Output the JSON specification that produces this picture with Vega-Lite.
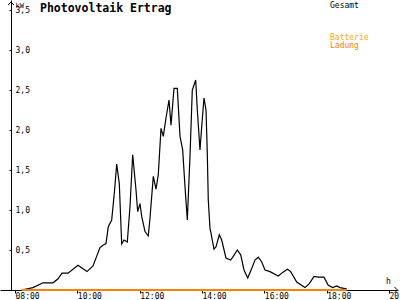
{
  "$schema": "https://vega.github.io/schema/vega-lite/v6.json",
  "width": 398,
  "height": 290,
  "autosize": {"type": "none"},
  "padding": {"left": 0, "top": 0, "right": 2, "bottom": 10},
  "background": "white",
  "title": {"text": "Photovoltaik Ertrag", "anchor": "start", "frame": "group", "dx": 40, "offset": -14, "font": "DejaVu Sans Mono", "fontSize": 11.5, "fontWeight": "bold", "color": "black", "baseline": "top"},
  "config": {"view": {"stroke": null}, "font": "DejaVu Sans Mono"},
  "data": {"values": [
    {"t": 8.215, "kw": 0, "series": "Gesamt"},
    {"t": 8.577, "kw": 0.03, "series": "Gesamt"},
    {"t": 8.898, "kw": 0.09, "series": "Gesamt"},
    {"t": 9.219, "kw": 0.09, "series": "Gesamt"},
    {"t": 9.380, "kw": 0.14, "series": "Gesamt"},
    {"t": 9.508, "kw": 0.21, "series": "Gesamt"},
    {"t": 9.700, "kw": 0.21, "series": "Gesamt"},
    {"t": 10.021, "kw": 0.31, "series": "Gesamt"},
    {"t": 10.310, "kw": 0.23, "series": "Gesamt"},
    {"t": 10.502, "kw": 0.30, "series": "Gesamt"},
    {"t": 10.727, "kw": 0.53, "series": "Gesamt"},
    {"t": 10.823, "kw": 0.56, "series": "Gesamt"},
    {"t": 10.919, "kw": 0.58, "series": "Gesamt"},
    {"t": 10.993, "kw": 0.79, "series": "Gesamt"},
    {"t": 11.102, "kw": 0.875, "series": "Gesamt"},
    {"t": 11.186, "kw": 1.21, "series": "Gesamt"},
    {"t": 11.263, "kw": 1.575, "series": "Gesamt"},
    {"t": 11.346, "kw": 1.33, "series": "Gesamt"},
    {"t": 11.423, "kw": 0.575, "series": "Gesamt"},
    {"t": 11.497, "kw": 0.625, "series": "Gesamt"},
    {"t": 11.603, "kw": 0.60, "series": "Gesamt"},
    {"t": 11.689, "kw": 1.04, "series": "Gesamt"},
    {"t": 11.776, "kw": 1.69, "series": "Gesamt"},
    {"t": 11.882, "kw": 1.25, "series": "Gesamt"},
    {"t": 11.936, "kw": 0.98, "series": "Gesamt"},
    {"t": 12.010, "kw": 1.08, "series": "Gesamt"},
    {"t": 12.065, "kw": 0.92, "series": "Gesamt"},
    {"t": 12.171, "kw": 0.73, "series": "Gesamt"},
    {"t": 12.276, "kw": 0.675, "series": "Gesamt"},
    {"t": 12.331, "kw": 0.90, "series": "Gesamt"},
    {"t": 12.437, "kw": 1.42, "series": "Gesamt"},
    {"t": 12.523, "kw": 1.26, "series": "Gesamt"},
    {"t": 12.597, "kw": 1.44, "series": "Gesamt"},
    {"t": 12.684, "kw": 2.02, "series": "Gesamt"},
    {"t": 12.758, "kw": 1.92, "series": "Gesamt"},
    {"t": 12.844, "kw": 2.15, "series": "Gesamt"},
    {"t": 12.941, "kw": 2.375, "series": "Gesamt"},
    {"t": 13.005, "kw": 2.06, "series": "Gesamt"},
    {"t": 13.101, "kw": 2.52, "series": "Gesamt"},
    {"t": 13.207, "kw": 2.52, "series": "Gesamt"},
    {"t": 13.294, "kw": 1.92, "series": "Gesamt"},
    {"t": 13.380, "kw": 1.75, "series": "Gesamt"},
    {"t": 13.454, "kw": 1.29, "series": "Gesamt"},
    {"t": 13.528, "kw": 0.875, "series": "Gesamt"},
    {"t": 13.614, "kw": 1.67, "series": "Gesamt"},
    {"t": 13.688, "kw": 2.50, "series": "Gesamt"},
    {"t": 13.797, "kw": 2.625, "series": "Gesamt"},
    {"t": 13.849, "kw": 2.25, "series": "Gesamt"},
    {"t": 13.935, "kw": 1.75, "series": "Gesamt"},
    {"t": 13.990, "kw": 2.04, "series": "Gesamt"},
    {"t": 14.063, "kw": 2.40, "series": "Gesamt"},
    {"t": 14.128, "kw": 2.25, "series": "Gesamt"},
    {"t": 14.169, "kw": 1.71, "series": "Gesamt"},
    {"t": 14.201, "kw": 1.125, "series": "Gesamt"},
    {"t": 14.256, "kw": 0.77, "series": "Gesamt"},
    {"t": 14.288, "kw": 0.71, "series": "Gesamt"},
    {"t": 14.384, "kw": 0.51, "series": "Gesamt"},
    {"t": 14.449, "kw": 0.54, "series": "Gesamt"},
    {"t": 14.554, "kw": 0.69, "series": "Gesamt"},
    {"t": 14.631, "kw": 0.625, "series": "Gesamt"},
    {"t": 14.769, "kw": 0.40, "series": "Gesamt"},
    {"t": 14.920, "kw": 0.375, "series": "Gesamt"},
    {"t": 15.003, "kw": 0.42, "series": "Gesamt"},
    {"t": 15.132, "kw": 0.50, "series": "Gesamt"},
    {"t": 15.241, "kw": 0.44, "series": "Gesamt"},
    {"t": 15.347, "kw": 0.25, "series": "Gesamt"},
    {"t": 15.466, "kw": 0.15, "series": "Gesamt"},
    {"t": 15.594, "kw": 0.27, "series": "Gesamt"},
    {"t": 15.700, "kw": 0.375, "series": "Gesamt"},
    {"t": 15.806, "kw": 0.41, "series": "Gesamt"},
    {"t": 15.915, "kw": 0.35, "series": "Gesamt"},
    {"t": 16.021, "kw": 0.25, "series": "Gesamt"},
    {"t": 16.181, "kw": 0.23, "series": "Gesamt"},
    {"t": 16.447, "kw": 0.175, "series": "Gesamt"},
    {"t": 16.588, "kw": 0.22, "series": "Gesamt"},
    {"t": 16.736, "kw": 0.26, "series": "Gesamt"},
    {"t": 16.845, "kw": 0.23, "series": "Gesamt"},
    {"t": 17.038, "kw": 0.10, "series": "Gesamt"},
    {"t": 17.304, "kw": 0.03, "series": "Gesamt"},
    {"t": 17.442, "kw": 0.08, "series": "Gesamt"},
    {"t": 17.593, "kw": 0.17, "series": "Gesamt"},
    {"t": 17.731, "kw": 0.16, "series": "Gesamt"},
    {"t": 17.913, "kw": 0.16, "series": "Gesamt"},
    {"t": 18.051, "kw": 0.06, "series": "Gesamt"},
    {"t": 18.193, "kw": 0.03, "series": "Gesamt"},
    {"t": 18.321, "kw": 0.05, "series": "Gesamt"},
    {"t": 18.427, "kw": 0.03, "series": "Gesamt"},
    {"t": 18.642, "kw": 0.015, "series": "Gesamt"},
    {"t": 8.215, "kw": 0, "series": "Batterie Ladung"},
    {"t": 18.642, "kw": 0, "series": "Batterie Ladung"}
  ]},
  "layer": [
    {
      "transform": [{"filter": "datum.series === 'Gesamt'"}],
      "mark": {"type": "line", "color": "black", "strokeWidth": 1.2},
      "encoding": {
        "x": {"field": "t", "type": "quantitative",
          "scale": {"domain": [7.5188, 20.2875], "nice": false, "zero": false},
          "axis": {"values": [8, 10, 12, 14, 16, 18, 20], "labelExpr": "(datum.value < 10 ? '0' : '') + datum.value + ':00'",
            "labelAlign": "left", "labelDx": -6, "labelBaseline": "top", "labelPadding": -1, "tickSize": 3,
            "tickColor": "black", "domainColor": "black", "labelColor": "black", "labelFont": "DejaVu Sans Mono", "labelFontSize": 8,
            "labelOverlap": false, "labelBound": false, "labelFlush": false, "grid": false,
            "title": "h", "titleX": 388, "titleY": -9, "titleBaseline": "middle", "titleAlign": "center",
            "titleFont": "DejaVu Sans Mono", "titleFontSize": 8, "titleFontWeight": "normal", "titleColor": "black"}},
        "y": {"field": "kw", "type": "quantitative",
          "scale": {"domain": [0, 3.625], "nice": false},
          "axis": {"values": [0.5, 1, 1.5, 2, 2.5, 3, 3.5], "labelExpr": "replace(format(datum.value, '.1f'), '.', ',')",
            "offset": -11, "labelAlign": "left", "labelBaseline": "middle", "labelPadding": -6, "tickSize": 2,
            "tickColor": "black", "domainColor": "black", "labelColor": "black", "labelFont": "DejaVu Sans Mono", "labelFontSize": 8,
            "labelOverlap": false, "labelBound": false, "labelFlush": false, "grid": false,
            "title": "kW", "titleAngle": 0, "titleX": 4, "titleY": 1, "titleAlign": "left", "titleBaseline": "top",
            "titleFont": "DejaVu Sans Mono", "titleFontSize": 7, "titleFontWeight": "normal", "titleColor": "black"}}
      }
    },
    {
      "transform": [{"filter": "datum.series === 'Batterie Ladung'"}],
      "mark": {"type": "line", "color": "#ff8000", "strokeWidth": 2},
      "encoding": {
        "x": {"field": "t", "type": "quantitative"},
        "y": {"field": "kw", "type": "quantitative"}
      }
    },
    {
      "data": {"values": [{}]},
      "mark": {"type": "point", "shape": "M-1,1L0,0L1,1", "size": 36, "filled": false, "stroke": "black", "strokeWidth": 1, "opacity": 1},
      "encoding": {
        "x": {"datum": 7.872, "type": "quantitative"},
        "y": {"datum": 3.6, "type": "quantitative"}
      }
    },
    {
      "data": {"values": [{}]},
      "mark": {"type": "point", "shape": "M-1,-1L0,0L-1,1", "size": 36, "filled": false, "stroke": "black", "strokeWidth": 1, "opacity": 1},
      "encoding": {
        "x": {"datum": 20.27, "type": "quantitative"},
        "y": {"datum": 0, "type": "quantitative"}
      }
    },
    {
      "data": {"values": [{}]},
      "mark": {"type": "text", "align": "left", "baseline": "middle", "font": "DejaVu Sans Mono", "fontSize": 8, "color": "black"},
      "encoding": {
        "x": {"datum": 18.106, "type": "quantitative"},
        "y": {"datum": 3.55, "type": "quantitative"},
        "text": {"value": "Gesamt"}
      }
    },
    {
      "data": {"values": [{}]},
      "mark": {"type": "text", "align": "left", "baseline": "middle", "font": "DejaVu Sans Mono", "fontSize": 8, "color": "#ffa500"},
      "encoding": {
        "x": {"datum": 18.106, "type": "quantitative"},
        "y": {"datum": 3.15, "type": "quantitative"},
        "text": {"value": "Batterie"}
      }
    },
    {
      "data": {"values": [{}]},
      "mark": {"type": "text", "align": "left", "baseline": "middle", "font": "DejaVu Sans Mono", "fontSize": 8, "color": "#ff8000"},
      "encoding": {
        "x": {"datum": 18.106, "type": "quantitative"},
        "y": {"datum": 3.045, "type": "quantitative"},
        "text": {"value": "Ladung"}
      }
    }
  ]
}
